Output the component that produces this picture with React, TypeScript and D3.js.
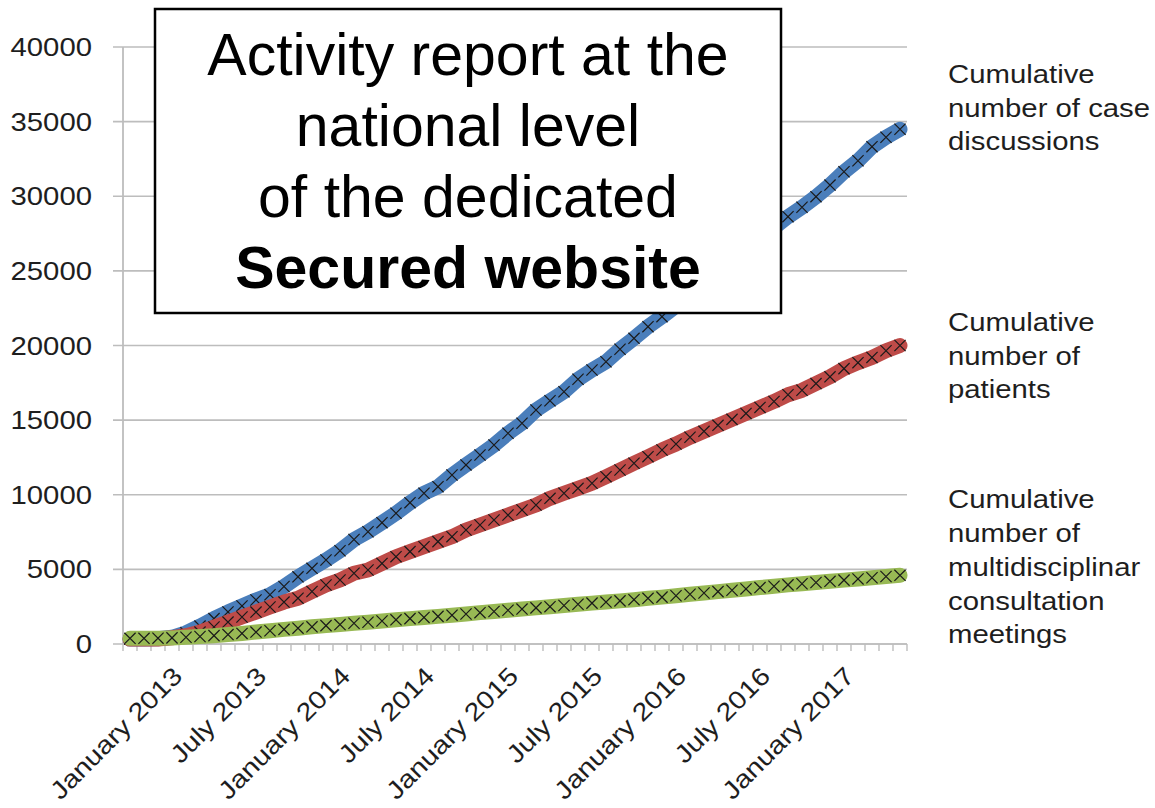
import React from "react";
import * as d3 from "d3";

// Monthly categories, October 2012 – May 2017
const months = d3.timeMonth.range(new Date(2012, 9, 1), new Date(2017, 5, 1));
const categories = months.map(d3.timeFormat("%B %Y"));

const xTickLabels = [
  "January 2013", "July 2013", "January 2014", "July 2014", "January 2015",
  "July 2015", "January 2016", "July 2016", "January 2017",
];
const yTicks = [0, 5000, 10000, 15000, 20000, 25000, 30000, 35000, 40000];

const caseDiscussions = [
  330, 330, 350, 450, 750, 1200, 1700, 2150, 2550, 2950, 3300, 3850, 4500, 5070, 5630, 6250,
  7000, 7520, 8130, 8760, 9470, 10100, 10540, 11320, 12000, 12660, 13330, 14120, 14790, 15680,
  16300, 16900, 17740, 18360, 18910, 19750, 20480, 21260, 21930, 22650, 23400, 24150, 24900,
  25650, 26400, 27150, 27900, 28630, 29260, 29970, 30750, 31640, 32380, 33320, 33950, 34490,
];
const patients = [
  330, 330, 340, 420, 560, 800, 1140, 1470, 1810, 2140, 2480, 2810, 3070, 3520, 3950, 4290,
  4740, 4960, 5400, 5850, 6190, 6520, 6860, 7190, 7640, 7970, 8310, 8640, 8980, 9310,
  9760, 10100, 10430, 10770, 11210, 11660, 12110, 12550, 13000, 13400, 13850, 14250, 14650,
  15050, 15450, 15850, 16250, 16700, 17000, 17450, 17900, 18450, 18850, 19200, 19650, 20000,
];
const mdtMeetings = [
  380, 380, 390, 410, 450, 500, 560, 630, 710, 800, 890, 980, 1060, 1150, 1230, 1300,
  1390, 1460, 1540, 1620, 1700, 1780, 1850, 1930, 2010, 2100, 2180, 2260, 2340, 2420,
  2500, 2580, 2660, 2740, 2810, 2890, 2970, 3060, 3140, 3230, 3330, 3420, 3510,
  3600, 3690, 3780, 3870, 3960, 4040, 4120, 4200, 4280, 4360, 4440, 4520, 4600,
];

const seriesNames = [
  ["Cumulative", "number of case", "discussions"],
  ["Cumulative", "number of", "patients"],
  ["Cumulative", "number of", "multidisciplinar", "consultation", "meetings"],
];
const seriesColors = ["#4A7EBB", "#BE4B48", "#98B954"];
const seriesValues = [caseDiscussions, patients, mdtMeetings];

const titleLines = ["Activity report at the", "national level", "of the dedicated", "Secured website"];

const W = 1155, H = 808;
const L = 123, R = 907, T = 47, B = 644;
const FONT = "'Liberation Sans', Arial, Helvetica, sans-serif";
const FS = 25.5;
const SX = 1.15;
const GRID = "#BDBDBD";

export default function App() {
  const x = d3.scaleBand<string>().domain(categories).range([L, R]).padding(0);
  const y = d3.scaleLinear().domain([0, 40000]).range([B, T]);
  const cx = (c: string) => (x(c) as number) + x.bandwidth() / 2;
  const line = d3
    .line<number>()
    .x((_, i) => cx(categories[i]))
    .y((v) => y(v));

  const tickXs = categories.map((c) => x(c) as number).concat([R]);
  const labelBaselines = [
    [83, 117, 150],
    [331, 365, 398],
    [508, 542, 576, 610, 643],
  ];
  const mk = 5.6;

  return (
    <svg width={W} height={H} style={{ position: "absolute", left: 0, top: 0, background: "#fff" }} fontFamily={FONT}>
      <rect x={0} y={0} width={W} height={H} fill="#fff" />
      {/* gridlines */}
      {yTicks.map((t) => (
        <line key={"g" + t} x1={113} x2={R} y1={y(t)} y2={y(t)} stroke={GRID} strokeWidth={1.6} />
      ))}
      {/* y axis */}
      <line x1={L} x2={L} y1={T} y2={B} stroke={GRID} strokeWidth={1.8} />
      {/* x ticks */}
      {tickXs.map((tx, i) => (
        <line key={"xt" + i} x1={tx} x2={tx} y1={B} y2={B + 7} stroke={GRID} strokeWidth={1.4} />
      ))}
      <line x1={L} x2={R} y1={B} y2={B} stroke={GRID} strokeWidth={1.6} />
      {/* y labels */}
      {yTicks.map((t) => (
        <text key={"yl" + t} transform={`translate(92,${y(t) + 9}) scale(${SX},1)`} textAnchor="end" fontSize={FS} fill="#1e1e1e">
          {t}
        </text>
      ))}
      {/* x labels */}
      {xTickLabels.map((lab) => (
        <text
          key={"xl" + lab}
          transform={`translate(${cx(lab) - 1},665) rotate(-45) scale(${SX},1)`}
          textAnchor="end"
          y={18}
          fontSize={25}
          fill="#1e1e1e"
        >
          {lab}
        </text>
      ))}
      {/* series */}
      {seriesValues.map((vals, si) => (
        <g key={"s" + si}>
          <path d={line(vals) || ""} fill="none" stroke={seriesColors[si]} strokeWidth={15} strokeLinecap="round" strokeLinejoin="round" />
          {vals.map((v, i) => {
            const px = cx(categories[i]);
            const py = y(v);
            return (
              <path
                key={i}
                d={`M${px - mk},${py - mk}L${px + mk},${py + mk}M${px - mk},${py + mk}L${px + mk},${py - mk}`}
                stroke="#1a1a1a"
                strokeWidth={1.2}
                fill="none"
              />
            );
          })}
        </g>
      ))}
      {/* right labels */}
      {seriesNames.map((lines, si) => (
        <g key={"rn" + si}>
          {lines.map((ln, li) => (
            <text key={li} transform={`translate(948,${labelBaselines[si][li]}) scale(${SX},1)`} fontSize={FS} fill="#1e1e1e">
              {ln}
            </text>
          ))}
        </g>
      ))}
      {/* title box */}
      <rect x={155} y={9} width={626} height={304} fill="#fff" stroke="#000" strokeWidth={2.5} />
      {titleLines.map((t, i) => (
        <text
          key={"t" + i}
          x={468}
          y={75 + i * 71}
          textAnchor="middle"
          fontSize={59}
          fontWeight={i === 3 ? "bold" : "normal"}
          fill="#000"
        >
          {t}
        </text>
      ))}
    </svg>
  );
}
